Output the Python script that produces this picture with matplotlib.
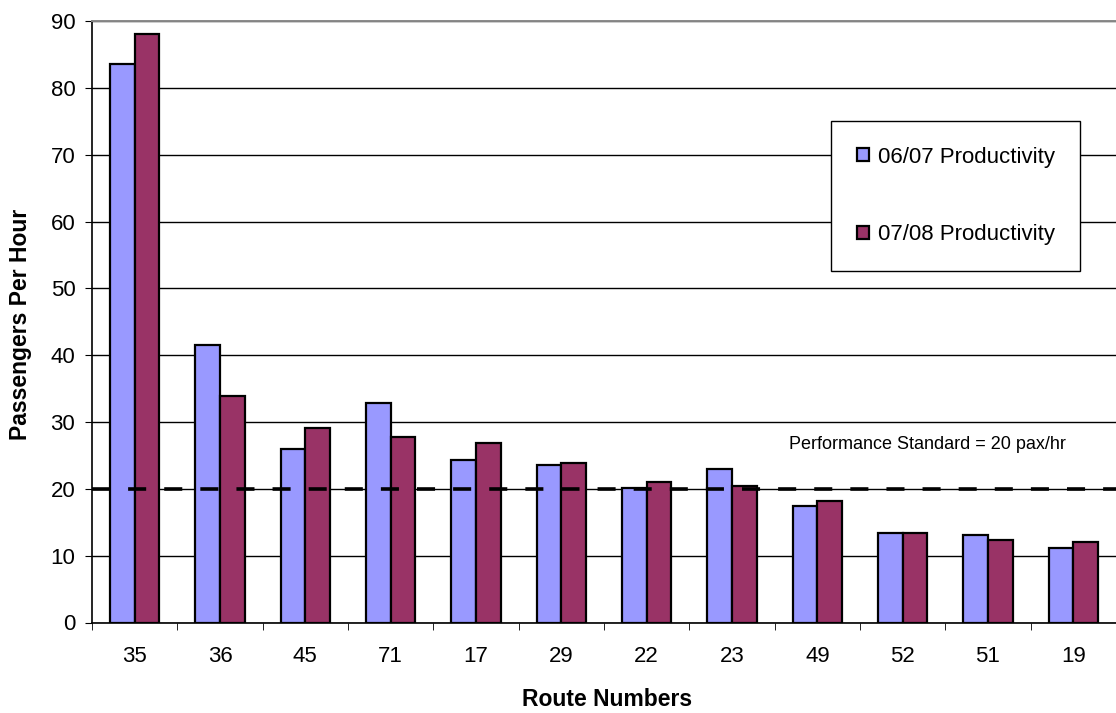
import matplotlib.pyplot as plt
import numpy as np

plt.rcParams["font.family"] = ["Liberation Sans", "DejaVu Sans"]

routes = ["35", "36", "45", "71", "17", "29", "22", "23", "49", "52", "51", "19"]
prod_0607 = [83.6, 41.5, 25.9, 32.9, 24.3, 23.6, 20.1, 23.0, 17.5, 13.4, 13.1, 11.1]
prod_0708 = [88.0, 33.9, 29.1, 27.8, 26.8, 23.9, 21.0, 20.4, 18.2, 13.4, 12.4, 12.1]
standard = 20

W, H = 1116, 713
fig = plt.figure(figsize=(W / 100, H / 100), dpi=100)
ax = fig.add_axes([92 / W, 1 - 622.5 / H, 1 - 92 / W, 601.5 / H])

x = np.arange(len(routes))
w = 0.288
ax.bar(x - w / 2, prod_0607, w, color="#9999FF", edgecolor="black", linewidth=1.6,
       label="06/07 Productivity", zorder=3)
ax.bar(x + w / 2, prod_0708, w, color="#993366", edgecolor="black", linewidth=1.6,
       label="07/08 Productivity", zorder=3)

# performance standard line and its note
ax.axhline(standard, color="black", linestyle=(0, (5, 5)), linewidth=2.6, zorder=4)
ax.text(9.29, 26.6, "Performance Standard = 20 pax/hr", fontsize=13,
        ha="center", va="center")

ax.set_xlim(-0.5, len(routes) - 0.5)
ax.set_ylim(0, 90)
ax.set_yticks(np.arange(0, 91, 10))
ax.yaxis.grid(True, color="black", linewidth=1.0, zorder=0)
ax.set_axisbelow(True)

ax.set_xticks(x)
ax.set_xticklabels(routes, fontsize=16)
ax.set_xticks(np.arange(-0.5, len(routes), 1), minor=True)
ax.tick_params(axis="x", which="major", length=0, pad=17)
ax.tick_params(axis="x", which="minor", length=5, direction="out")
ax.tick_params(axis="y", labelsize=16, length=5, direction="out", pad=7)

ax.spines["right"].set_visible(False)
ax.spines["top"].set_color("#888888")
ax.spines["top"].set_linewidth(1.4)
ax.spines["left"].set_linewidth(1.2)
ax.spines["bottom"].set_linewidth(1.2)

fig.text(21 / W, 1 - 324 / H, "Passengers Per Hour", fontsize=16.5, fontweight="bold",
         rotation=90, ha="center", va="center")
fig.text(607 / W, 1 - 700 / H, "Route Numbers", fontsize=16.5, fontweight="bold",
         ha="center", va="center")

leg = ax.legend(loc="upper left", bbox_to_anchor=(831 / W, 1 - 121 / H),
                bbox_transform=fig.transFigure, fontsize=16, frameon=True,
                fancybox=False, framealpha=1, edgecolor="black",
                handlelength=0.55, handleheight=0.55, handletextpad=0.4,
                labelspacing=2.55, borderpad=1.15, borderaxespad=0)
leg.get_frame().set_linewidth(1.0)

fig.savefig("out.png", dpi=100)
